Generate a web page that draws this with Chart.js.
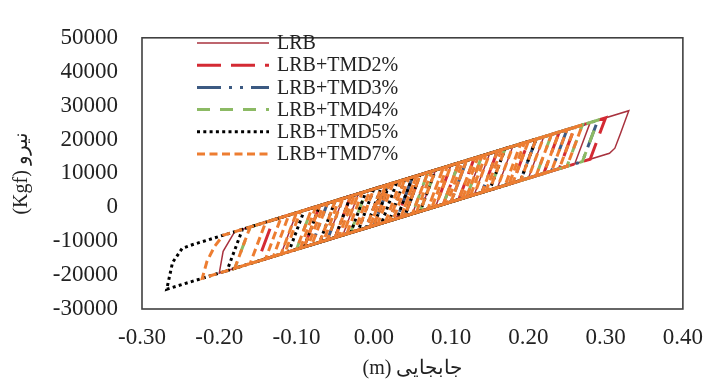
<!DOCTYPE html>
<html>
<head>
<meta charset="utf-8">
<script src="https://cdn.jsdelivr.net/npm/chart.js@4.4.1/dist/chart.umd.min.js"></script>
<style>
  body { margin: 0; background: #fff; }
  #wrap { width: 718px; height: 381px; }
</style>
</head>
<body>
<div id="wrap"><canvas id="grafico" width="718" height="381"></canvas></div>
<script>
// nombres de las series (leyenda)
var seriesNames = ['LRB', 'LRB+TMD2%', 'LRB+TMD3%', 'LRB+TMD4%', 'LRB+TMD5%', 'LRB+TMD7%'];

// ticks de los ejes
var xTicks = [-0.3, -0.2, -0.1, 0, 0.1, 0.2, 0.3, 0.4];
var yTicks = [-30000, -20000, -10000, 0, 10000, 20000, 30000, 40000, 50000];

// puntos [desplazamiento m, fuerza kgf]
var lrbPts = [[0,0],[0.02,6800],[0.08,11000],[0.06,-1200],[-0.06,-9600],[-0.04,2600],[0.15,15900],[0.13,3700],[-0.12,-13800],[-0.10,-1600],[0.33,28500],[0.319,21650],[0.312,17440],[0.305,15950],[-0.20,-19400],[-0.195,-13000],[-0.18,-7200],[0.10,12400],[0.08,200],[-0.04,-8200],[-0.02,4000],[0.22,20800],[0.20,8600],[0.05,-1900],[0.07,10300],[0.28,25000],[0.26,12800],[0.12,3000],[0.14,15200],[0.18,18000],[0.16,5800],[0.02,-4000]];

var tmd2Pts = [[0,0],[0.02,6800],[0.06,9600],[0.04,-2600],[-0.09,-11700],[-0.07,500],[0.13,14500],[0.11,2300],[-0.15,-15900],[-0.13,-3700],[0.30,26400],[0.28,14200],[-0.05,-8900],[-0.03,3300],[0.24,22200],[0.22,10000],[0.08,200],[0.10,12400],[0.26,23600],[0.24,11400],[0.14,4400],[0.16,16600],[0.20,19400],[0.18,7200],[0.03,-3300],[0.05,8900],[0.11,13100],[0.09,900],[0.01,-4700]];

var tmd3Pts = [[0,0],[0.02,6800],[0.05,8900],[0.03,-3300],[-0.08,-11000],[-0.06,1200],[0.12,13800],[0.10,1600],[-0.06,-9600],[-0.04,2600],[0.29,25700],[0.27,13500],[0,-5400],[0.02,6800],[0.25,22900],[0.23,10700],[0.10,1600],[0.12,13800],[0.21,20100],[0.19,7900],[0.04,-2600],[0.06,9600],[0.16,16600],[0.14,4400],[-0.02,-6800]];

var tmd4Pts = [[0,0],[0.02,6800],[0.07,10300],[0.05,-1900],[-0.10,-12400],[-0.08,-200],[0.14,15200],[0.12,3000],[-0.18,-18000],[-0.16,-5800],[0.27,24300],[0.25,12100],[-0.03,-7500],[-0.01,4700],[0.29,25700],[0.27,13500],[0.09,900],[0.11,13100],[0.23,21500],[0.21,9300],[0.06,-1200],[0.08,11000],[0.17,17300],[0.15,5100],[-0.01,-6100]];

var tmd5Pts = [[0,0],[0.02,6800],[0.04,8200],[0.02,-4000],[-0.07,-10300],[-0.05,1900],[0.03,7500],[0.01,-4700],[-0.11,-13100],[-0.09,-900],[0.21,20100],[0.19,7900],[-0.268,-24160],[-0.2605,-16300],[-0.248,-12100],[-0.235,-11050],[0.02,6800],[0,-5400],[-0.19,-18700],[-0.17,-6500],[0.01,6100],[-0.01,-6100],[-0.05,-8900],[-0.03,3300],[0.06,9600],[0.04,-2600],[-0.03,-7500],[-0.01,4700],[0.17,17300],[0.15,5100],[-0.09,-11700],[-0.07,500],[0.08,11000],[0.06,-1200],[-0.02,-6800],[0,5400],[0.05,8900],[0.03,-3300],[-0.01,-6100]];

var tmd7Pts = [[0,0],[0.02,6800],[0.09,11700],[0.07,-500],[-0.04,-8200],[-0.02,4000],[0.12,13800],[0.10,1600],[-0.13,-14500],[-0.11,-2300],[0.19,18700],[0.17,6500],[-0.222,-20940],[-0.216,-16000],[-0.206,-11500],[-0.195,-8250],[0.16,16600],[0.14,4400],[-0.08,-11000],[-0.06,1200],[0.27,24300],[0.25,12100],[-0.06,-9600],[-0.04,2600],[0.22,20800],[0.20,8600],[-0.16,-16600],[-0.14,-4400],[0.13,14500],[0.11,2300],[-0.10,-12400],[-0.08,-200],[0.25,22900],[0.23,10700],[0.07,-500],[0.09,11700],[0.18,18000],[0.16,5800],[-0.12,-13800],[-0.10,-1600],[0.10,12400],[0.08,200],[-0.18,-18000],[-0.16,-5800],[0.15,15900],[0.13,3700],[0.02,-4000],[0.04,8200],[0.23,21500],[0.21,9300],[-0.02,-6800],[0,5400],[0.20,19400],[0.18,7200],[0.04,-2600],[0.06,9600],[0.14,15200],[0.12,3000],[-0.07,-10300],[-0.05,1900],[0.11,13100],[0.09,900],[-0.14,-15200],[-0.12,-3000],[0.17,17300],[0.15,5100],[0,-5400],[0.02,6800],[0.24,22200],[0.22,10000],[0.10,1600],[0.12,13800],[0.26,23600],[0.24,11400],[0.05,-1900],[0.07,10300],[0.21,20100],[0.19,7900],[-0.05,-8900],[-0.03,3300],[0.08,11000],[0.06,-1200],[-0.09,-11700],[-0.07,500],[0.06,9600],[0.04,-2600],[-0.01,-6100],[0.01,6100],[0.045,8550],[0.025,-3650],[-0.065,-9950],[-0.045,2250],[0.095,12050],[0.075,-150],[-0.035,-7850],[-0.015,4350],[0.135,14850],[0.115,2650],[-0.085,-11350],[-0.065,850],[0.075,10650],[0.055,-1550],[-0.115,-13450],[-0.095,-1250],[0.165,16950],[0.145,4750],[0.015,-4350],[0.035,7850],[0.115,13450],[0.095,1250],[-0.045,-8550],[-0.025,3650],[0.025,7150],[0.005,-5050],[-0.095,-12050],[-0.075,150],[0.055,9250],[0.035,-2950],[-0.005,-5750],[0.015,6450],[0.195,19050],[0.175,6850],[0.035,-2950],[0.055,9250],[0.145,15550],[0.125,3350],[-0.025,-7150],[-0.005,5050],[0.015,6450],[-0.005,-5750],[-0.055,-9250]];

function toXY(pts) {
  return pts.map(function(p) { return { x: p[0], y: p[1] }; });
}

var fuente = 'Liberation Serif';

// caja del area y leyenda dentro del grafico
var cajaYLeyenda = {
  id: 'cajaYLeyenda',
  afterDraw: function(chart) {
    var ctx = chart.ctx;
    var a = chart.chartArea;
    ctx.save();
    ctx.strokeStyle = '#404040';
    ctx.lineWidth = 1.6;
    ctx.strokeRect(a.left, a.top, a.right - a.left, a.bottom - a.top);
    chart.data.datasets.forEach(function(ds, i) {
      var y = 43 + i * 22.2;
      ctx.beginPath();
      ctx.setLineDash(ds.borderDash || []);
      ctx.strokeStyle = ds.borderColor;
      ctx.lineWidth = ds.borderWidth;
      ctx.moveTo(197, y);
      ctx.lineTo(269, y);
      ctx.stroke();
      ctx.setLineDash([]);
      ctx.fillStyle = '#222';
      ctx.font = '20px "' + fuente + '"';
      ctx.textBaseline = 'middle';
      ctx.fillText(ds.label, 277, y + 1);
    });
    ctx.restore();
  }
};

var ctx = document.getElementById('grafico').getContext('2d');
var myChart = new Chart(ctx, {
  type: 'scatter',
  data: {
    datasets: [{
      label: seriesNames[0],
      data: toXY(lrbPts),
      borderColor: '#a8323e',
      borderWidth: 1.5,
      borderDash: [],
      order: 5
    },
    {
      label: seriesNames[1],
      data: toXY(tmd2Pts),
      borderColor: '#d42a33',
      borderWidth: 3,
      borderDash: [24, 10],
      order: 4
    },
    {
      label: seriesNames[2],
      data: toXY(tmd3Pts),
      borderColor: '#3c5a82',
      borderWidth: 3,
      borderDash: [24, 8, 3, 8, 3, 8],
      order: 3
    },
    {
      label: seriesNames[3],
      data: toXY(tmd4Pts),
      borderColor: '#8cba64',
      borderWidth: 3,
      borderDash: [13, 10],
      order: 2
    },
    {
      label: seriesNames[4],
      data: toXY(tmd5Pts),
      borderColor: '#000000',
      borderWidth: 3,
      borderDash: [3, 3.3],
      order: 1
    },
    {
      label: seriesNames[5],
      data: toXY(tmd7Pts),
      borderColor: '#ED7D31',
      borderWidth: 3,
      borderDash: [8, 4.5],
      order: 0
    }]
  },
  options: {
    responsive: false,
    animation: false,
    showLine: true,
    elements: {
      point: { radius: 0, hoverRadius: 0 },
      line: { tension: 0, fill: false }
    },
    layout: { padding: { left: 0, right: 26, top: 24, bottom: 0 } },
    plugins: {
      legend: { display: false },
      tooltip: { enabled: false }
    },
    scales: {
      x: {
        type: 'linear',
        min: -0.3,
        max: 0.4,
        afterBuildTicks: function(s) { s.ticks = xTicks.map(function(v) { return { value: v }; }); },
        afterFit: function(s) { s.height = 72; },
        grid: { display: false, drawTicks: false },
        border: { display: false },
        ticks: {
          callback: function(v) { return Number(v).toFixed(2); },
          font: { family: fuente, size: 23 },
          color: '#222',
          padding: 15,
          maxRotation: 0,
          autoSkip: false
        },
        title: {
          display: true,
          text: '(m) جابجایی',
          font: { family: fuente, size: 20 },
          color: '#222',
          padding: { top: 0, bottom: 0 }
        }
      },
      y: {
        type: 'linear',
        min: -30000,
        max: 50000,
        afterBuildTicks: function(s) { s.ticks = yTicks.map(function(v) { return { value: v }; }); },
        afterFit: function(s) { s.width = 142; },
        grid: { display: false, drawTicks: false },
        border: { display: false },
        ticks: {
          callback: function(v) { return String(v); },
          font: { family: fuente, size: 23 },
          color: '#222',
          padding: 24
        },
        title: {
          display: true,
          text: '(Kgf) نیرو',
          font: { family: fuente, size: 20 },
          color: '#222',
          padding: { top: 10, bottom: 0 }
        }
      }
    }
  },
  plugins: [cajaYLeyenda]
});
</script>
</body>
</html>
